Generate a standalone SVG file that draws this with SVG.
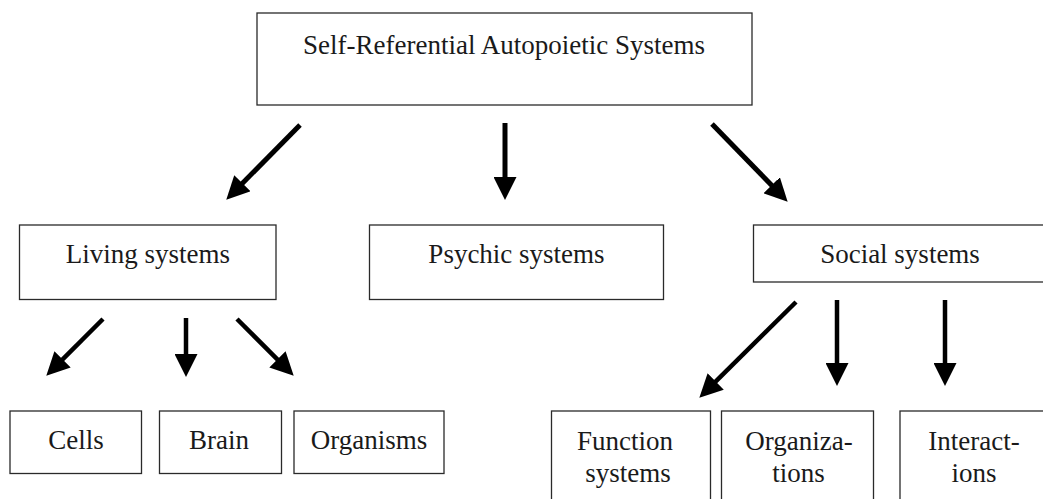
<svg xmlns="http://www.w3.org/2000/svg" width="1043" height="499" viewBox="0 0 1043 499">
<defs>
<marker id="ah" markerUnits="userSpaceOnUse" markerWidth="23" markerHeight="23" refX="8" refY="11.5" orient="auto" viewBox="0 0 23 23">
<path d="M0,0 L23,11.5 L0,23 z" fill="#000"/>
</marker>
<style>
.box{fill:#fff;stroke:#2a2a2a;stroke-width:1.3}
.t{font-family:'Liberation Serif',Tinos,'Noto Serif','DejaVu Serif',serif;font-size:27px;fill:#1a1a1a;text-anchor:middle}
.c{stroke:#000;stroke-width:5;fill:none;marker-end:url(#ah)}
.c2{stroke:#000;stroke-width:4.5;fill:none;marker-end:url(#ah)}
</style>
</defs>
<rect width="1043" height="499" fill="#fff"/>
<g id="root"><rect class="box" x="257" y="13" width="495" height="92"/><text class="t" x="504" y="54">Self-Referential Autopoietic Systems</text></g>
<g id="living"><rect class="box" x="19.5" y="225" width="256.5" height="74.5"/><text class="t" x="148" y="263">Living systems</text></g>
<g id="psychic"><rect class="box" x="369.5" y="225" width="294" height="74.5"/><text class="t" x="516.5" y="263">Psychic systems</text></g>
<g id="social"><rect class="box" x="753.5" y="225" width="294" height="57"/><text class="t" x="900" y="263">Social systems</text></g>
<g id="cells"><rect class="box" x="10" y="411" width="131.5" height="62.5"/><text class="t" x="76" y="449">Cells</text></g>
<g id="brain"><rect class="box" x="159.5" y="411" width="122" height="62.5"/><text class="t" x="219" y="449">Brain</text></g>
<g id="organisms"><rect class="box" x="294" y="411" width="150" height="62.5"/><text class="t" x="369" y="449">Organisms</text></g>
<g id="function"><rect class="box" x="551.5" y="411" width="159" height="100"/><text class="t" x="625" y="450">Function</text><text class="t" x="628" y="482">systems</text></g>
<g id="organizations"><rect class="box" x="721.5" y="411" width="152" height="100"/><text class="t" x="799" y="450">Organiza-</text><text class="t" x="798.5" y="482">tions</text></g>
<g id="interactions"><rect class="box" x="900" y="411" width="148" height="100"/><text class="t" x="974" y="450">Interact-</text><text class="t" x="974" y="482">ions</text></g>
<g id="connectors">
<line class="c" x1="300" y1="125" x2="236.8" y2="189"/>
<line class="c" x1="505" y1="123" x2="505" y2="185"/>
<line class="c" x1="712" y1="124" x2="777.2" y2="191"/>
<line class="c2" x1="103" y1="319" x2="56.9" y2="365.1"/>
<line class="c2" x1="186" y1="318" x2="186" y2="362"/>
<line class="c2" x1="237" y1="319" x2="283.1" y2="365.1"/>
<line class="c2" x1="796" y1="302" x2="710" y2="387.1"/>
<line class="c2" x1="837" y1="300" x2="837" y2="371"/>
<line class="c2" x1="945" y1="300" x2="945" y2="371"/>
</g>
</svg>
